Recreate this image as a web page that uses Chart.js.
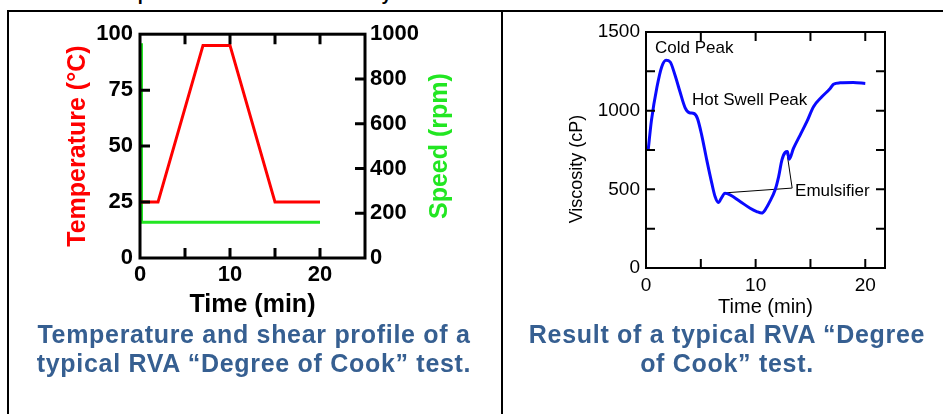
<!DOCTYPE html>
<html>
<head>
<meta charset="utf-8">
<script src="https://cdn.jsdelivr.net/npm/chart.js@4.4.1/dist/chart.umd.min.js"></script>
<style>
  body { margin: 0; background: #fff; width: 943px; height: 414px; overflow: hidden; position: relative; font-family: "Liberation Sans", Arial, sans-serif; }
  .frame { position: absolute; left: 7px; top: 10px; width: 1000px; height: 500px; border: 2px solid #000; box-sizing: border-box; }
  .divider { position: absolute; left: 501px; top: 10px; width: 2px; height: 500px; background: #000; }
  .title { position: absolute; left: 102px; top: -15px; font-size: 18px; line-height: 18px; font-weight: bold; white-space: nowrap; }
  canvas { position: absolute; }
  .caption { position: absolute; text-align: center; font-weight: bold; font-size: 25px; line-height: 29px; letter-spacing: 0.7px; color: #365F91; white-space: nowrap; }
</style>
</head>
<body>
<div class="title">Temperature Profile and Viscosity</div>
<div class="frame"></div>
<div class="divider"></div>
<canvas id="canvas1" width="470" height="310" style="left:10px;top:14px"></canvas>
<canvas id="canvas2" width="420" height="310" style="left:520px;top:12px"></canvas>
<div class="caption" style="left:0px;top:320px;width:508px">Temperature and shear profile of a<br>typical RVA “Degree of Cook” test.</div>
<div class="caption" style="left:502px;top:320px;width:450px">Result of a typical RVA “Degree<br>of Cook” test.</div>
<script>
// profile (left chart)
var tempTime = [0, 2, 7, 10, 15, 20];
var tempValue = [25, 25, 95, 95, 25, 25];
var speedTime = [0.17, 0.17, 20];
var speedValue = [960, 160, 160];
var profileTimeLabels = [0, 10, 20];

// viscosity (right chart)
var viscTime = [0.2, 0.5, 1.0, 1.43, 1.83, 2.2, 2.65, 3.1, 3.56, 3.96, 4.38, 4.69, 5.08, 5.54, 6.0, 6.3, 6.6, 6.9, 7.2,
    7.67, 8.58, 9.5, 10.1, 10.56, 10.87, 11.3, 11.78, 12.1, 12.4, 12.7, 12.9, 13.06, 13.45, 14.06, 14.67, 15.28,
    16.04, 16.8, 17.1, 17.7, 18.9, 20.0];
var viscValue = [750, 940, 1150, 1278, 1320, 1310, 1225, 1120, 1020, 987, 982, 951, 845, 687, 539, 454, 416, 448, 475,
    465, 423, 380, 359, 349, 370, 423, 497, 581, 687, 735, 740, 691, 760, 845, 930, 1025,
    1088, 1141, 1168, 1177, 1179, 1173];
var emulsifierTime = [7.3, 13.33, 12.85];
var emulsifierValue = [478, 508, 735];
var viscTimeLabels = [0, 10, 20];
var viscValueLabels = [0, 500, 1000, 1500];

var noteText = ['Cold Peak', 'Hot Swell Peak', 'Emulsifier'];
var noteTime = [0.82, 4.2, 13.6];
var noteValue = [1398, 1066, 489];

Chart.defaults.font.family = '"Liberation Sans", Arial, sans-serif';
Chart.defaults.color = '#000';

function toPoints(xs, ys) {
    return xs.map(function (x, i) { return { x: x, y: ys[i] }; });
}

// box around the plot with ticks pointing inward
var framePlugin = {
    id: 'frame',
    afterDatasetsDraw: function (chart, args, opts) {
        var ctx = chart.ctx, a = chart.chartArea, s = chart.scales;
        ctx.save();
        ctx.strokeStyle = '#000';
        ctx.lineWidth = opts.width;
        ctx.beginPath();
        s.x.ticks.forEach(function (t, i) {
            var px = s.x.getPixelForTick(i);
            if (px <= a.left + 1 || px >= a.right - 1) return;
            ctx.moveTo(px, a.bottom); ctx.lineTo(px, a.bottom - opts.len);
            ctx.moveTo(px, a.top); ctx.lineTo(px, a.top + opts.len);
        });
        var leftScale = s.y, rightScale = s.y2 || s.y;
        leftScale.ticks.forEach(function (t, i) {
            var py = leftScale.getPixelForTick(i);
            if (py <= a.top + 1 || py >= a.bottom - 1) return;
            ctx.moveTo(a.left, py); ctx.lineTo(a.left + opts.len, py);
        });
        rightScale.ticks.forEach(function (t, i) {
            var py = rightScale.getPixelForTick(i);
            if (py <= a.top + 1 || py >= a.bottom - 1) return;
            ctx.moveTo(a.right, py); ctx.lineTo(a.right - opts.len, py);
        });
        ctx.stroke();
        ctx.strokeRect(a.left, a.top, a.right - a.left, a.bottom - a.top);
        ctx.restore();
    }
};

// rotated axis titles drawn beside the plot, reading bottom to top
var sideTitlePlugin = {
    id: 'sideTitle',
    afterDraw: function (chart, args, opts) {
        var ctx = chart.ctx, a = chart.chartArea;
        var x = opts.side === 'right' ? a.right + opts.offset : a.left - opts.offset;
        ctx.save();
        ctx.translate(x, (a.top + a.bottom) / 2 + opts.shift);
        ctx.rotate(-Math.PI / 2);
        ctx.font = opts.font;
        ctx.fillStyle = opts.color;
        ctx.textAlign = 'center';
        ctx.textBaseline = 'middle';
        ctx.fillText(opts.text, 0, 0);
        ctx.restore();
    }
};

var notePlugin = {
    id: 'notes',
    afterDatasetsDraw: function (chart) {
        var ctx = chart.ctx, s = chart.scales;
        ctx.save();
        ctx.font = '17px "Liberation Sans", Arial, sans-serif';
        ctx.fillStyle = '#000';
        ctx.textAlign = 'left';
        ctx.textBaseline = 'middle';
        noteText.forEach(function (t, i) {
            ctx.fillText(t, s.x.getPixelForValue(noteTime[i]), s.y.getPixelForValue(noteValue[i]));
        });
        ctx.restore();
    }
};

function plainLabel(v) { return String(v); }

function initializeProfileChart() {
    var ctx1 = document.getElementById('canvas1').getContext('2d');
    window.profileChart = new Chart(ctx1, {
        type: 'line',
        data: {
            datasets: [{
                label: 'Temperature',
                data: toPoints(tempTime, tempValue),
                borderColor: '#ff0000',
                borderWidth: 3,
                pointRadius: 0,
                yAxisID: 'y'
            }, {
                label: 'Speed',
                data: toPoints(speedTime, speedValue),
                borderColor: '#22e622',
                borderWidth: 3,
                pointRadius: 0,
                yAxisID: 'y2'
            }]
        },
        options: {
            responsive: false,
            animation: false,
            devicePixelRatio: 1,
            layout: { padding: { top: 19, left: 0, right: 0, bottom: 0 } },
            plugins: {
                legend: { display: false },
                tooltip: { enabled: false },
                frame: { width: 3, len: 10 },
                sideTitle: {
                    side: 'right', offset: 75, shift: 0, text: 'Speed (rpm)', color: '#22e622',
                    font: 'bold 25px "Liberation Sans", Arial, sans-serif'
                }
            },
            scales: {
                x: {
                    type: 'linear', min: 0, max: 25,
                    grid: { display: false, drawTicks: false },
                    border: { display: false },
                    ticks: {
                        stepSize: 5, padding: 4,
                        font: { size: 22, weight: 'bold' },
                        callback: function (v) { return profileTimeLabels.indexOf(v) >= 0 ? String(v) : ''; }
                    },
                    title: {
                        display: true, text: 'Time (min)',
                        font: { size: 25, weight: 'bold' },
                        padding: { top: 0, bottom: 4 }
                    },
                    afterFit: function (scale) { scale.height = 66; }
                },
                y: {
                    position: 'left', min: 0, max: 100,
                    grid: { display: false, drawTicks: false },
                    border: { display: false },
                    ticks: { stepSize: 25, padding: 7, font: { size: 22, weight: 'bold' }, callback: plainLabel },
                    title: {
                        display: true, text: 'Temperature (°C)', color: '#ff0000',
                        font: { size: 25, weight: 'bold' },
                        padding: { top: 53, bottom: 0 }
                    },
                    afterFit: function (scale) { scale.width = 130; }
                },
                y2: {
                    position: 'right', min: 0, max: 1000,
                    grid: { display: false, drawTicks: false },
                    border: { display: false },
                    ticks: { stepSize: 200, padding: 5, font: { size: 22, weight: 'bold' }, callback: plainLabel },
                    afterFit: function (scale) { scale.width = 115; }
                }
            }
        },
        plugins: [framePlugin, sideTitlePlugin]
    });
}

function initializeViscosityChart() {
    var ctx2 = document.getElementById('canvas2').getContext('2d');
    window.viscChart = new Chart(ctx2, {
        type: 'line',
        data: {
            datasets: [{
                label: 'Viscosity',
                data: toPoints(viscTime, viscValue),
                borderColor: '#0a0aff',
                borderWidth: 3,
                pointRadius: 0,
                cubicInterpolationMode: 'monotone'
            }, {
                label: 'Emulsifier',
                data: toPoints(emulsifierTime, emulsifierValue),
                borderColor: '#000',
                borderWidth: 1,
                pointRadius: 0
            }]
        },
        options: {
            responsive: false,
            animation: false,
            devicePixelRatio: 1,
            layout: { padding: { top: 20, left: 0, right: 55, bottom: 0 } },
            plugins: {
                legend: { display: false },
                tooltip: { enabled: false },
                frame: { width: 2, len: 9 },
                sideTitle: {
                    side: 'left', offset: 69, shift: 19, text: 'Viscosity (cP)', color: '#000',
                    font: '18px "Liberation Sans Narrow", "Liberation Sans", Arial, sans-serif'
                }
            },
            scales: {
                x: {
                    type: 'linear', min: 0, max: 21.8,
                    grid: { display: false, drawTicks: false },
                    border: { display: false },
                    ticks: {
                        stepSize: 5, padding: 6, includeBounds: false,
                        font: { size: 19 },
                        callback: function (v) { return viscTimeLabels.indexOf(v) >= 0 ? String(v) : ''; }
                    },
                    title: {
                        display: true, text: 'Time (min)',
                        font: { size: 20 },
                        padding: { top: 0, bottom: 3 }
                    },
                    afterFit: function (scale) { scale.height = 54; }
                },
                y: {
                    position: 'left', min: 0, max: 1500,
                    grid: { display: false, drawTicks: false },
                    border: { display: false },
                    ticks: {
                        stepSize: 250, padding: 6,
                        font: { size: 19 },
                        callback: function (v) { return viscValueLabels.indexOf(v) >= 0 ? String(v) : ''; }
                    },
                    afterFit: function (scale) { scale.width = 126; }
                }
            }
        },
        plugins: [framePlugin, notePlugin, sideTitlePlugin]
    });
}

initializeProfileChart();
initializeViscosityChart();
</script>
</body>
</html>
